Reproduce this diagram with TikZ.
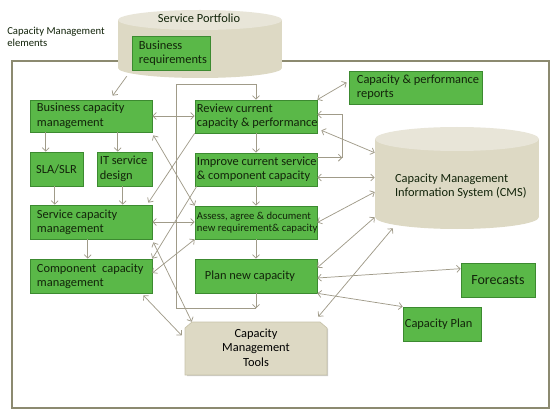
\documentclass[tikz,border=0pt]{standalone}
\usepackage{fontspec}
\setmainfont{Carlito}
\usetikzlibrary{arrows.meta,calc,shadows}
\definecolor{gfill}{RGB}{90,184,72}
\definecolor{gborder}{RGB}{60,138,48}
\definecolor{txt}{RGB}{18,36,10}
\definecolor{beige}{RGB}{221,217,196}
\definecolor{beigetop}{RGB}{232,229,216}
\definecolor{beigeline}{RGB}{200,195,170}
\definecolor{framec}{RGB}{140,138,112}
\definecolor{conn}{RGB}{160,155,137}
\begin{document}
\begin{tikzpicture}[x=0.75pt,y=-0.75pt,
 gbox/.style={draw=gborder, fill=gfill, line width=0.5pt, inner sep=0pt,
   drop shadow={shadow xshift=0.8pt, shadow yshift=-0.8pt, fill=black, opacity=0.25}},
 lbl/.style={inner sep=0pt, align=left, text=txt, font=\fontsize{9.3}{10.8}\selectfont},
 clbl/.style={lbl, align=center},
 arr/.style={draw=conn, line width=0.55pt, -{Straight Barb[length=2.6pt,width=5.2pt]}},
 darr/.style={draw=conn, line width=0.55pt, {Straight Barb[length=2.6pt,width=5.2pt]}-{Straight Barb[length=2.6pt,width=5.2pt]}}
]
\useasboundingbox (0,0) rectangle (560,417);
\fill[white] (0,0) rectangle (560,417);

% frame
\draw[framec, line width=1.2pt] (12,61) rectangle (549,408);

% Service Portfolio cylinder
\fill[beige] (118,20) rectangle (282,68);
\fill[beige] (200,68) ellipse [x radius=61.5pt, y radius=7.5pt];
\fill[beigetop] (200,20) ellipse [x radius=61.5pt, y radius=7.5pt];
\node[inner sep=0pt, minimum width=123pt, minimum height=51pt] (sp) at (200,44) {};
\node[clbl] (spt) at ($(sp.north)+(-1,9)$) {Service Portfolio};

% CMS cylinder
\fill[beige] (375,139) rectangle (539,217);
\fill[beige] (457,217) ellipse [x radius=61.5pt, y radius=9pt];
\fill[beigetop] (457,139) ellipse [x radius=61.5pt, y radius=9pt];
\node[inner sep=0pt, minimum width=123pt, minimum height=76.5pt] (cms) at (457,178) {};
\node[lbl, anchor=west] (cmst) at ($(cms.west)+(20,8)$) {Capacity Management\\Information System (CMS)};

% label
\node[lbl, anchor=north west, font=\fontsize{8}{9.2}\selectfont] (cme) at (7,27) {Capacity Management\\elements};

% green boxes
\node[gbox, minimum width=58.5pt, minimum height=25.5pt] (breq) at (171,53) {};
\node[gbox, minimum width=91.5pt, minimum height=24pt] (bcm) at (91,116) {};
\node[gbox, minimum width=39.75pt, minimum height=25.5pt] (sla) at (56.5,169) {};
\node[gbox, minimum width=41.25pt, minimum height=25.5pt] (itsd) at (124.5,169) {};
\node[gbox, minimum width=91.5pt, minimum height=25.5pt] (scm) at (91,222) {};
\node[gbox, minimum width=91.5pt, minimum height=25.5pt] (ccm) at (91,276) {};
\node[gbox, minimum width=91.5pt, minimum height=24.75pt] (rev) at (256,116.5) {};
\node[gbox, minimum width=91.5pt, minimum height=24.75pt] (imp) at (256,169.5) {};
\node[gbox, minimum width=91.5pt, minimum height=24.75pt] (ass) at (256,222.5) {};
\node[gbox, minimum width=91.5pt, minimum height=25.5pt] (plan) at (256,276) {};
\node[gbox, minimum width=99.75pt, minimum height=24.75pt] (cpr) at (415.5,87.5) {};
\node[gbox, minimum width=55.5pt, minimum height=25.5pt] (fc) at (498,280) {};
\node[gbox, minimum width=58.5pt, minimum height=25.5pt] (cp) at (442,324) {};

% tools (chamfered top corners)
\fill[black, opacity=0.2] (187,329) -- (194,323) -- (321,323) -- (328,329) -- (328,376) -- (187,376) -- cycle;
\filldraw[draw=beigeline, fill=beige, line width=0.5pt] (185,328) -- (192,322) -- (320,322) -- (327,328) -- (327,375) -- (185,375) -- cycle;
\node[inner sep=0pt, minimum width=106.5pt, minimum height=39.75pt] (tools) at (256,348.5) {};
\node[clbl, text=black] (toolst) at ($(tools.center)+(0,-1)$) {Capacity\\Management\\Tools};

% texts
\node[lbl, anchor=west] (breqt) at ($(breq.west)+(7,0)$) {Business\\requirements};
\node[lbl, anchor=west] (bcmt) at ($(bcm.west)+(7,0)$) {Business capacity\\management};
\node[clbl] (slat) at (sla.center) {SLA/SLR};
\node[lbl, anchor=west] (itsdt) at ($(itsd.west)+(3,0)$) {IT service\\design};
\node[lbl, anchor=west] (scmt) at ($(scm.west)+(7,0)$) {Service capacity\\management};
\node[lbl, anchor=west] (ccmt) at ($(ccm.west)+(7,0)$) {Component\hspace{0.25em} capacity\\management};
\node[lbl, anchor=west] (revt) at ($(rev.west)+(2,0)$) {Review current\\capacity \& performance};
\node[lbl, anchor=west] (impt) at ($(imp.west)+(2,0)$) {Improve current service\\\& component capacity};
\node[lbl, anchor=west, font=\fontsize{8}{9}\selectfont] (asst) at ($(ass.west)+(2,0)$) {Assess, agree \& document\\new requirement\& capacity};
\node[clbl] (plant) at ($(plan.center)+(-6,0)$) {Plan new capacity};
\node[lbl, anchor=west] (cprt) at ($(cpr.west)+(8,0)$) {Capacity \& performance\\reports};
\node[clbl, font=\fontsize{10.5}{12}\selectfont] (fct) at (fc.center) {Forecasts};
\node[lbl, anchor=west] (cpt) at ($(cp.west)+(2,0)$) {Capacity Plan};

% connectors, left column
\draw[arr] ($(sp.south west)+(9,-2)$) -- ($(bcm.north west)+(83,-4)$);
\draw[darr] (bcm.east) -- (bcm.east -| rev.west);
\draw[arr] ($(bcm.south west)+(16,0)$) -- ($(sla.north west)+(16,0)$);
\draw[arr] ($(bcm.south west)+(88,0)$) -- ($(itsd.north west)+(21,0)$);
\draw[arr] ($(sla.south west)+(25,0)$) -- ($(scm.north west)+(25,0)$);
\draw[arr] ($(itsd.south west)+(26,0)$) -- ($(scm.north west)+(93,0)$);
\draw[darr] (scm.east) -- (scm.east -| ass.west);
\draw[arr] ($(scm.south west)+(58,0)$) -- ($(ccm.north west)+(58,0)$);

% middle column
\draw[arr] (rev.south) -- (imp.north);
\draw[arr] (imp.south) -- (ass.north);
\draw[arr] (ass.south) -- (plan.north);
\coordinate (lb) at ($(plan.south)+(0,15)$);
\coordinate (lt) at ($(rev.north)+(0,-15)$);
\draw[arr] (plan.south) -- (lb);
\draw[arr] (lb) -- ($(lb)+(-80,0)$) -- ($(lt)+(-80,0)$) -- (lt) -- (rev.north);

% bracket
\coordinate (br) at ($(imp.north east)+(25,5)$);
\draw[arr] ($(imp.north east)+(0,5)$) -- (br);
\draw[arr] (br) |- ($(rev.east)+(0,-2)$);

% right side
\draw[darr] (rev.north east) -- ($(cpr.west)+(-2,-5)$);
\draw[darr] ($(rev.south east)+(4,-3)$) -- ($(cms.north west)+(0,26)$);
\coordinate (ie) at ($(imp.east)+(0,8)$);
\draw[darr] (ie) -- (ie -| cms.west);
\draw[darr] (ass.east) -- ($(cms.west)+(0,14)$);
\draw[darr] ($(plan.north east)+(0,9)$) -- ($(cms.south west)+(0,-12)$);
\draw[darr] ($(tools.north east)+(-9,-5)$) -- ($(cms.south west)+(18,-1)$);
\draw[darr] ($(plan.east)+(0,2)$) -- ($(fc.north west)+(0,6)$);
\draw[darr] (plan.south east) -- (cp.north west);

% diagonals
\draw[darr] ($(bcm.south east)+(1,3)$) -- (ass.north west);
\draw[arr] (rev.south west) -- ($(scm.north east)+(-4,-2)$);
\draw[arr] ($(imp.south west)+(2,0)$) -- (ccm.north east);
\draw[darr] (ass.south west) -- ($(ccm.east)+(0,-3)$);
\draw[darr] ($(scm.south east)+(1,3)$) -- ($(tools.north west)+(7,0)$);
\draw[darr] ($(ccm.south east)+(-9,2)$) -- ($(tools.west)+(-3,-13)$);
\end{tikzpicture}
\end{document}
